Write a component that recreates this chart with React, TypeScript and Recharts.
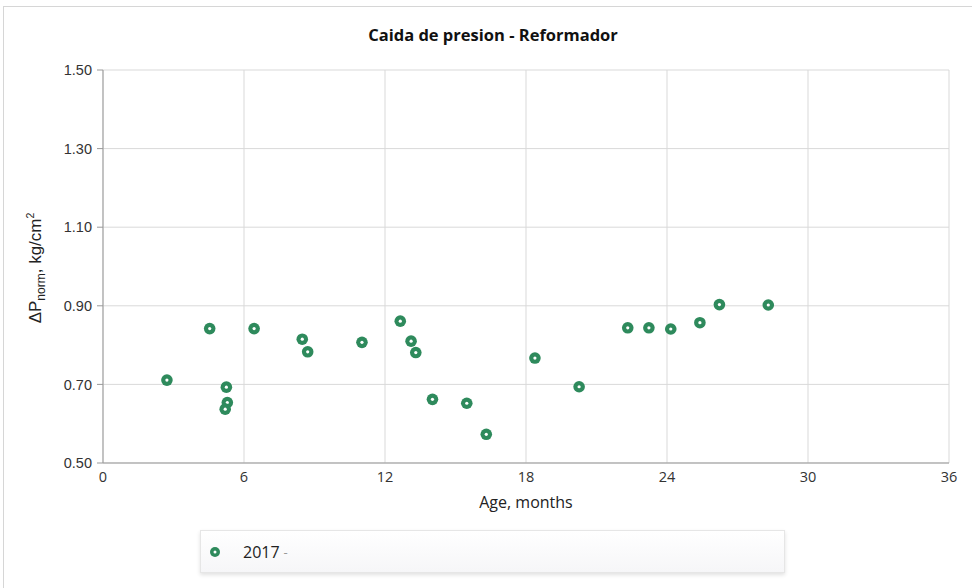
import React from "react";
import {
  ScatterChart,
  Scatter,
  XAxis,
  YAxis,
  CartesianGrid,
} from "recharts";

// age in months / normalised pressure drop, 2017 campaign
const ageMonths = [
  2.72, 4.54, 5.25, 5.29, 5.2, 6.43, 8.48, 8.71, 11.02, 12.65, 13.11, 13.31,
  14.02, 15.48, 16.31, 18.38, 20.26, 22.33, 23.23, 24.16, 25.4, 26.23, 28.31,
];
const dpNorm = [
  0.711, 0.842, 0.693, 0.654, 0.637, 0.842, 0.815, 0.783, 0.807, 0.861, 0.81,
  0.781, 0.662, 0.652, 0.573, 0.767, 0.694, 0.844, 0.844, 0.841, 0.857, 0.903,
  0.902,
];
const xTicks = [0, 6, 12, 18, 24, 30, 36];
const yTicks = [0.5, 0.7, 0.9, 1.1, 1.3, 1.5];

const seriesName = "2017";
const green = "#2e8a5c";

const points = ageMonths.map((x, i) => ({ x, y: dpNorm[i] }));

const Dot = (props: any) => {
  const { cx, cy } = props;
  if (cx == null || cy == null) return null;
  return (
    <g>
      <circle cx={cx} cy={cy} r={5.8} fill={green} />
      <circle cx={cx} cy={cy} r={1.6} fill="#ffffff" />
    </g>
  );
};

const YLabel = () => (
  <text
    transform="translate(41,268) rotate(-90)"
    textAnchor="middle"
    fontFamily="'Liberation Sans', Arial, sans-serif"
    fontSize={17}
    fill="#222"
  >
    ΔP
    <tspan fontSize={12} dy={4}>norm</tspan>
    <tspan dy={-4}>, kg/cm</tspan>
    <tspan fontSize={10.5} dy={-7}>2</tspan>
  </text>
);

export default function App() {
  return (
    <div style={{ position: "relative", width: 972, height: 588, background: "#fff" }}>
      <style>{`body{margin:0}`}</style>
      <div
        style={{
          position: "absolute",
          left: 3,
          top: 6,
          width: 975,
          height: 590,
          border: "1px solid #d6d6d6",
          boxSizing: "border-box",
        }}
      />
      <div
        style={{
          position: "absolute",
          top: 23,
          left: 0,
          width: 986,
          textAlign: "center",
          fontFamily: "'Open Sans', 'Noto Sans', sans-serif",
          fontWeight: 700,
          fontSize: 16.5,
          color: "#111",
        }}
      >
        Caida de presion - Reformador
      </div>
      <ScatterChart
        width={972}
        height={588}
        margin={{ top: 70, right: 23, left: 43, bottom: 82 }}
        style={{ position: "absolute", left: 0, top: 0 }}
      >
        <CartesianGrid stroke="#d9d9d9" strokeWidth={1} />
        <XAxis
          type="number"
          dataKey="x"
          domain={[0, 36]}
          ticks={xTicks}
          interval={0}
          height={43}
          stroke="#999"
          tickSize={0}
          tickMargin={9}
          tick={{
            fill: "#333",
            fontSize: 14.5,
            fontFamily: "'Open Sans', 'Noto Sans', sans-serif",
          }}
          label={{
            value: "Age, months",
            position: "insideBottom",
            offset: -2,
            fill: "#222",
            fontSize: 16,
            fontFamily: "'Open Sans', 'Noto Sans', sans-serif",
          }}
        />
        <YAxis
          type="number"
          dataKey="y"
          domain={[0.5, 1.5]}
          ticks={yTicks}
          interval={0}
          width={60}
          stroke="#999"
          tickSize={6}
          tickMargin={5}
          tickFormatter={(v: number) => v.toFixed(2)}
          tick={{
            fill: "#333",
            fontSize: 14.5,
            fontFamily: "'Liberation Sans', Arial, sans-serif",
          }}
          label={<YLabel />}
        />
        <Scatter
          name={seriesName}
          data={points}
          shape={<Dot />}
          isAnimationActive={false}
        />
      </ScatterChart>
      <div
        style={{
          position: "absolute",
          left: 200,
          top: 530,
          width: 585,
          height: 43,
          background: "linear-gradient(#ffffff, #f6f6f8)",
          border: "1px solid #e6e6e6",
          boxShadow: "0 2px 4px rgba(0,0,0,0.12)",
          boxSizing: "border-box",
          display: "flex",
          alignItems: "center",
          fontFamily: "'Open Sans', 'Noto Sans', sans-serif",
          fontSize: 16,
          color: "#222",
        }}
      >
        <svg width={12} height={12} style={{ marginLeft: 8 }}>
          <circle cx={6} cy={6} r={5} fill={green} />
          <circle cx={6} cy={6} r={1.5} fill="#fff" />
        </svg>
        <span style={{ marginLeft: 22 }}>{seriesName}</span>
        <span style={{ marginLeft: 4, color: "#999", fontSize: 13 }}>-</span>
      </div>
    </div>
  );
}
